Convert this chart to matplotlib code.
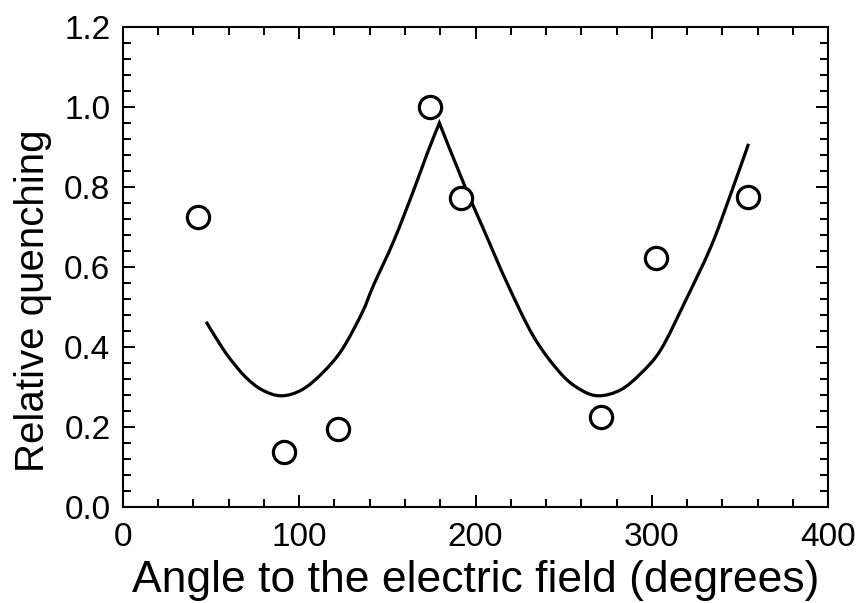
import matplotlib
matplotlib.use("Agg")
import matplotlib.pyplot as plt
from matplotlib.ticker import MultipleLocator, FormatStrFormatter
from matplotlib.path import Path
from matplotlib.patches import PathPatch

# Measured data points (open circles)
point_angle = [42.5, 91.3, 122.2, 174.2, 192.0, 271.0, 302.3, 354.6]
point_quench = [0.725, 0.138, 0.194, 1.000, 0.772, 0.225, 0.623, 0.775]

# Fitted curve (cusp near 180)
curve_angle = [47.2, 52.3, 59.8, 69.3, 78.8, 89.8, 101.5, 112.9, 124.2, 135.6,
               142.2, 153.6, 165.0, 172.6, 179.5, 193.3, 204.7, 218.0, 233.1,
               248.3, 259.7, 270.0, 282.4, 293.8, 305.1, 318.4, 333.5,
               344.9, 354.9]
curve_quench = [0.463, 0.426, 0.376, 0.326, 0.293, 0.278, 0.293, 0.334, 0.393, 0.485,
                0.555, 0.665, 0.793, 0.884, 0.960, 0.809, 0.693, 0.559, 0.425,
                0.334, 0.293, 0.278, 0.293, 0.334, 0.393, 0.509, 0.650,
                0.784, 0.908]
cusp_index = 14

x_ticks = [0, 100, 200, 300, 400]
y_ticks = [0.0, 0.2, 0.4, 0.6, 0.8, 1.0, 1.2]

plt.rcParams['font.family'] = ['Liberation Sans', 'DejaVu Sans']


def branch_segments(pts):
    """Catmull-Rom rendering through the given points (drawing style only)."""
    verts, n = [], len(pts)
    for i in range(n - 1):
        p0 = pts[i - 1] if i > 0 else pts[i]
        p1 = pts[i]
        p2 = pts[i + 1]
        p3 = pts[i + 2] if i + 2 < n else pts[i + 1]
        c1 = (p1[0] + (p2[0] - p0[0]) / 6.0, p1[1] + (p2[1] - p0[1]) / 6.0)
        c2 = (p2[0] - (p3[0] - p1[0]) / 6.0, p2[1] - (p3[1] - p1[1]) / 6.0)
        verts += [c1, c2, p2]
    return verts


pts = list(zip(curve_angle, curve_quench))
verts = [pts[0]] + branch_segments(pts[:cusp_index + 1]) + branch_segments(pts[cusp_index:])
codes = [Path.MOVETO] + [Path.CURVE4] * (len(verts) - 1)

fig = plt.figure(figsize=(8.57, 6.03), dpi=100)
ax = fig.add_axes([0.1435, 0.1592, 0.8227, 0.796])

ax.add_patch(PathPatch(Path(verts, codes), facecolor='none', edgecolor='black', lw=2.3,
                       joinstyle='miter', capstyle='butt', transform=ax.transData))

ax.plot(point_angle, point_quench, linestyle='none', marker='o', markersize=16,
        markerfacecolor='white', markeredgecolor='black', markeredgewidth=2.3)

ax.set_xlim(0, 400)
ax.set_ylim(0, 1.2)
ax.set_xticks(x_ticks)
ax.set_yticks(y_ticks)
ax.xaxis.set_minor_locator(MultipleLocator(20))
ax.yaxis.set_minor_locator(MultipleLocator(0.04))
ax.yaxis.set_major_formatter(FormatStrFormatter('%.1f'))

ax.tick_params(which='both', direction='in', top=True, right=True, width=1.4, colors='black')
ax.tick_params(which='major', length=8.6, labelsize=24)
ax.tick_params(axis='x', which='major', pad=11)
ax.tick_params(axis='y', which='major', pad=9)
ax.tick_params(which='minor', length=5.8)
for s in ax.spines.values():
    s.set_linewidth(1.5)

ax.set_xlabel('Angle to the electric field (degrees)', fontsize=32, labelpad=5)
ax.set_ylabel('Relative quenching', fontsize=29)
ax.yaxis.set_label_coords(-0.1, 0.43)

fig.savefig('out.png', dpi=100)
